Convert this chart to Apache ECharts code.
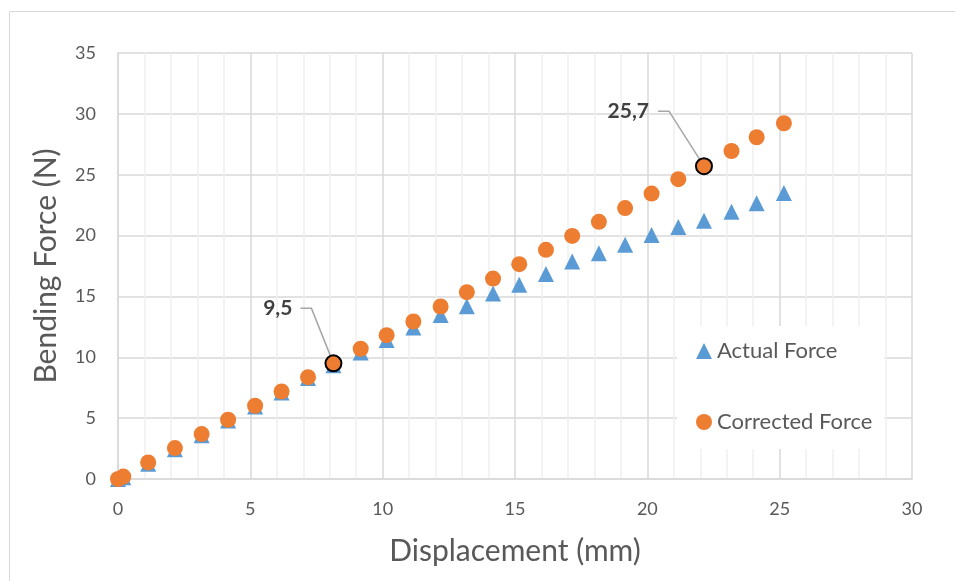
<!DOCTYPE html>
<html>
<head>
<meta charset="utf-8">
<script src="https://cdn.jsdelivr.net/npm/echarts@6/dist/echarts.min.js"></script>
<style>
html,body{margin:0;padding:0;background:#fff;}
#chart{width:955px;height:581px;}
</style>
</head>
<body>
<div id="chart"></div>
<script>
// Data
const displacement = [0, 0.2, 1.14, 2.15, 3.16, 4.16, 5.18, 6.18, 7.18, 8.14, 9.17, 10.15, 11.16, 12.19, 13.18, 14.17, 15.16, 16.17, 17.16, 18.17, 19.16, 20.16, 21.17, 22.14, 23.18, 24.13, 25.16];
const actualForce = [0, 0.15, 1.25, 2.45, 3.6, 4.8, 5.95, 7.1, 8.3, 9.35, 10.4, 11.43, 12.45, 13.47, 14.2, 15.24, 15.95, 16.84, 17.87, 18.54, 19.24, 20.05, 20.7, 21.22, 21.96, 22.66, 23.49];
const correctedForce = [0, 0.2, 1.36, 2.54, 3.69, 4.87, 6.02, 7.19, 8.37, 9.5, 10.7, 11.82, 12.94, 14.17, 15.35, 16.47, 17.65, 18.83, 19.97, 21.13, 22.26, 23.45, 24.63, 25.7, 26.95, 28.08, 29.23];
const seriesNames = ['Actual Force', 'Corrected Force'];
const annotatedIdx = [9, 23];
const annotatedText = ['9,5', '25,7'];
const xTitle = 'Displacement (mm)';
const yTitle = 'Bending Force (N)';

const FONT = 'Lato, "Open Sans", sans-serif';
const chart = echarts.init(document.getElementById('chart'), null, {renderer: 'canvas'});

const actualData = displacement.map((x, i) => [x, actualForce[i]]);
const correctedData = displacement.map((x, i) => {
  const item = {value: [x, correctedForce[i]]};
  if (annotatedIdx.indexOf(i) >= 0) {
    item.itemStyle = {borderColor: '#000', borderWidth: 2};
  }
  return item;
});

const borderRect = {
  type: 'rect', left: 7, top: 9, z: -1, silent: true,
  shape: {width: 1000, height: 620},
  style: {fill: 'none', stroke: '#D9D9D9', lineWidth: 1}
};

chart.setOption({
  backgroundColor: '#fff',
  animation: false,
  graphic: [borderRect],
  grid: {left: 118, right: 43, top: 53, bottom: 102, containLabel: false},
  xAxis: {
    type: 'value', min: 0, max: 30, interval: 5,
    name: xTitle, nameLocation: 'middle', nameGap: 57,
    nameTextStyle: {fontFamily: FONT, fontSize: 30, color: '#595959'},
    axisLine: {show: true, lineStyle: {color: '#D9D9D9', width: 1.5}},
    axisTick: {show: false},
    axisLabel: {fontFamily: FONT, fontSize: 18, color: '#595959', margin: 21},
    splitLine: {show: true, lineStyle: {color: '#D9D9D9', width: 1.5}},
    minorTick: {show: false, splitNumber: 5},
    minorSplitLine: {show: true, lineStyle: {color: '#F0F0F0', width: 1.5}}
  },
  yAxis: {
    type: 'value', min: 0, max: 35, interval: 5,
    name: yTitle, nameLocation: 'middle', nameGap: 57, nameRotate: 90,
    nameTextStyle: {fontFamily: FONT, fontSize: 30, color: '#595959'},
    axisLine: {show: true, lineStyle: {color: '#D9D9D9', width: 1.5}},
    axisTick: {show: false},
    axisLabel: {fontFamily: FONT, fontSize: 18, color: '#595959', margin: 22},
    splitLine: {show: true, lineStyle: {color: '#D9D9D9', width: 1.5}}
  },
  legend: {
    orient: 'vertical', left: 677, top: 326,
    itemGap: 49, itemWidth: 16, itemHeight: 16,
    backgroundColor: '#fff', padding: [14, 12, 16, 19],
    textStyle: {fontFamily: FONT, fontSize: 22, color: '#595959'},
    data: [{name: seriesNames[0], icon: 'triangle'}, {name: seriesNames[1], icon: 'circle'}]
  },
  series: [
    {
      name: seriesNames[0], type: 'scatter', symbol: 'triangle', symbolSize: 16,
      itemStyle: {color: '#5B9BD5', opacity: 1}, data: actualData, z: 2
    },
    {
      name: seriesNames[1], type: 'scatter', symbol: 'circle', symbolSize: 16,
      itemStyle: {color: '#ED7D31', opacity: 1}, data: correctedData, z: 3
    }
  ]
});

// Callouts: leader lines + bold value labels, placed via the chart's own scales
const labelOffsets = [
  {lineStart: -33, lineTurn: -22, textRight: -41, dy: -55},
  {lineStart: -46, lineTurn: -35, textRight: -55, dy: -55}
];
const callouts = [];
annotatedIdx.forEach((idx, k) => {
  const p = chart.convertToPixel({seriesIndex: 1}, [displacement[idx], correctedForce[idx]]);
  const o = labelOffsets[k];
  callouts.push({
    type: 'polyline', z: 2, silent: true,
    shape: {points: [[p[0] + o.lineStart, p[1] + o.dy], [p[0] + o.lineTurn, p[1] + o.dy], [p[0], p[1]]]},
    style: {stroke: '#A6A6A6', lineWidth: 1.5, fill: 'none'}
  });
  callouts.push({
    type: 'text', z: 10, silent: true,
    x: p[0] + o.textRight, y: p[1] + o.dy,
    style: {text: annotatedText[k], fontFamily: FONT, fontWeight: 'bold', fontSize: 21,
      fill: '#404040', align: 'right', verticalAlign: 'middle'}
  });
});
chart.setOption({graphic: [borderRect].concat(callouts)});
</script>
</body>
</html>
